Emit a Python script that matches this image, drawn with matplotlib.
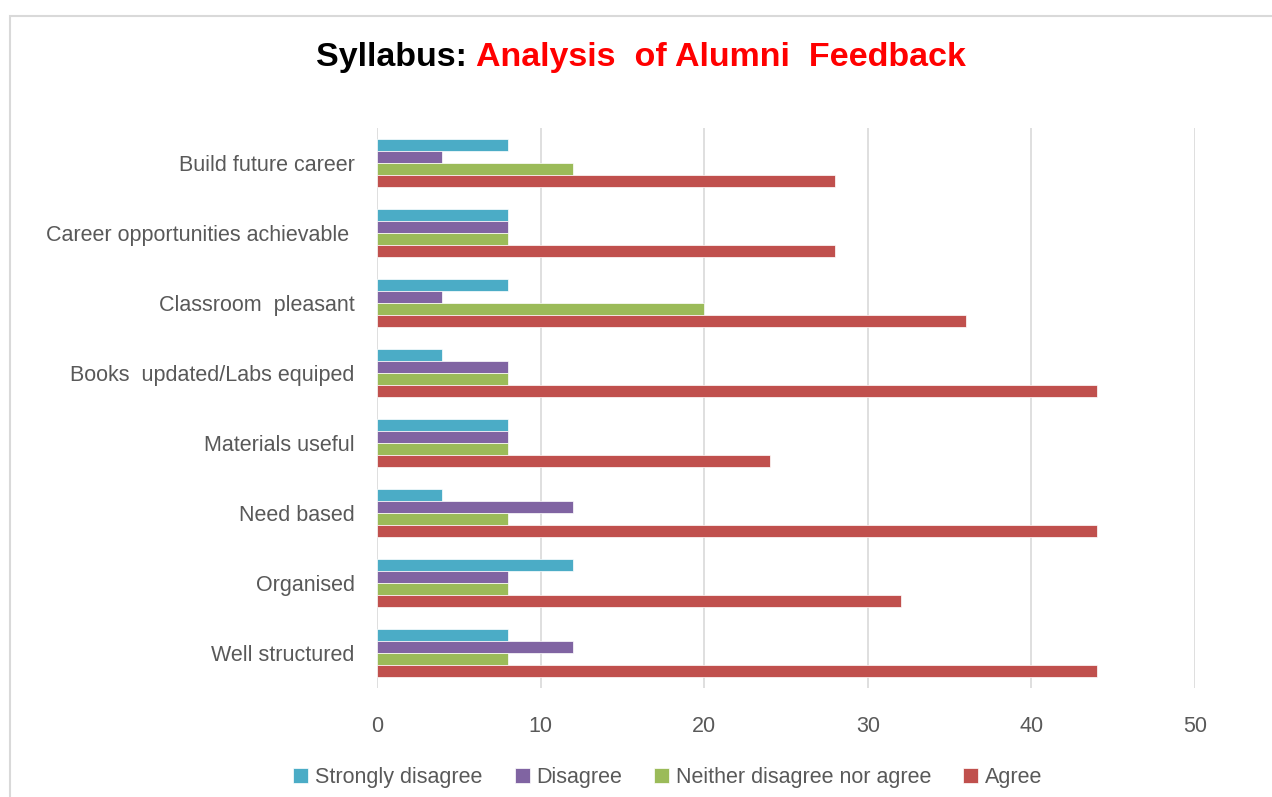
import matplotlib.pyplot as plt
import matplotlib.patches as patches
import numpy as np

plt.rcParams['font.family'] = ['Liberation Sans', 'DejaVu Sans']

categories = ["Build future career", "Career opportunities achievable ", "Classroom  pleasant",
              "Books  updated/Labs equiped", "Materials useful", "Need based", "Organised",
              "Well structured"]
strongly_disagree = [8, 8, 8, 4, 8, 4, 12, 8]
disagree = [4, 8, 4, 8, 8, 12, 8, 12]
neither = [12, 8, 20, 8, 8, 8, 8, 8]
agree = [28, 28, 36, 44, 24, 44, 32, 44]

series = [("Strongly disagree", strongly_disagree, "#4BACC6"),
          ("Disagree", disagree, "#8064A2"),
          ("Neither disagree nor agree", neither, "#9BBB59"),
          ("Agree", agree, "#C0504D")]

fig = plt.figure(figsize=(12.72, 7.97), dpi=100)
ax = fig.add_axes([0.2964, 0.1368, 0.6431, 0.7026])

y = np.arange(len(categories))
h = 0.17
for j, (name, vals, col) in enumerate(series):
    ax.barh(y + (j - 1.5) * h, vals, height=h, color=col, label=name,
            edgecolor="white", linewidth=0.5, zorder=3)

ax.set_ylim(len(categories) - 0.5, -0.5)
ax.set_xlim(0, 50)
ax.set_xticks(range(0, 51, 10))
ax.set_yticks(y)
ax.set_yticklabels(categories)
ax.grid(axis="x", color="#D9D9D9", linewidth=1.2, zorder=0)
for s in ax.spines.values():
    s.set_visible(False)
ax.tick_params(length=0, labelsize=15.5, colors="#595959")
ax.tick_params(axis="x", pad=20)
ax.tick_params(axis="y", pad=16)

leg = fig.legend(loc="center", bbox_to_anchor=(0.525, 0.025), ncol=4, frameon=False,
                 fontsize=15.5, handlelength=0.7, handleheight=0.7, handletextpad=0.3,
                 columnspacing=1.5)
for t in leg.get_texts():
    t.set_color("#595959")

# chart frame
fig.add_artist(patches.Rectangle((10 / 1272, -0.05), 1.1, 0.98 + 0.05, transform=fig.transFigure,
                                 fill=False, edgecolor="#D9D9D9", linewidth=1.5))

# two-colour title
fig.canvas.draw()
r = fig.canvas.get_renderer()
t1 = fig.text(0, 0.928, "Syllabus: ", fontsize=24.5, fontweight="bold", color="black", va="center")
t2 = fig.text(0, 0.928, "Analysis  of Alumni  Feedback", fontsize=24.5, fontweight="bold",
              color="#FF0000", va="center")
w1 = t1.get_window_extent(r).width / fig.bbox.width
w2 = t2.get_window_extent(r).width / fig.bbox.width
x0 = 0.504 - (w1 + w2) / 2
t1.set_x(x0)
t2.set_x(x0 + w1)

fig.savefig("out.png", dpi=100)
